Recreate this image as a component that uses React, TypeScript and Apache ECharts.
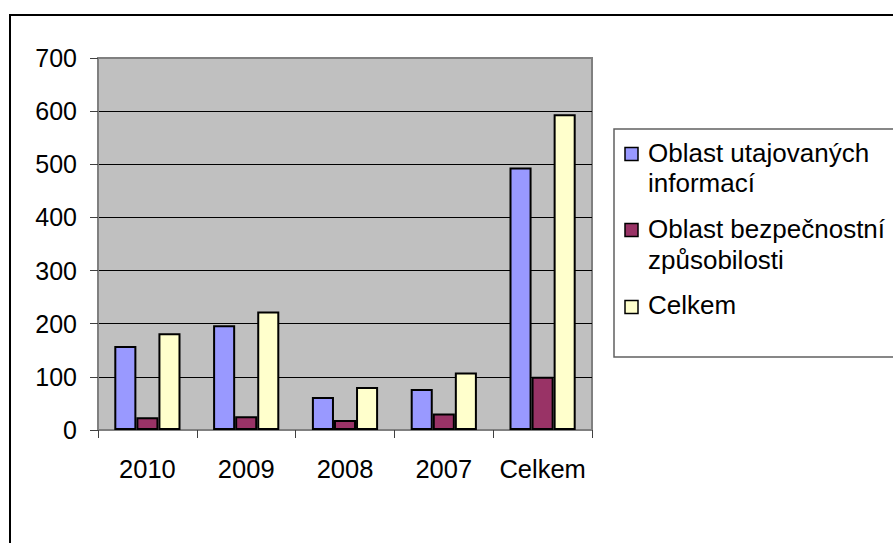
import React, { useEffect, useRef } from "react";
import * as echarts from "echarts";

const categories = ["2010", "2009", "2008", "2007", "Celkem"];
const seriesNames = ["Oblast utajovaných informací", "Oblast bezpečnostní způsobilosti", "Celkem"];
const legendLines = [["Oblast utajovaných", "informací"], ["Oblast bezpečnostní", "způsobilosti"], ["Celkem"]];
const utajovane = [158, 197, 62, 77, 494];
const bezpecnost = [24, 26, 19, 31, 100];
const celkem = [182, 223, 81, 108, 594];
const colors = ["#9999FF", "#993366", "#FFFFCC"];

const FONT = "'Liberation Sans', Arial, sans-serif";

export default function App() {
  const ref = useRef<HTMLDivElement>(null);
  useEffect(() => {
    document.body.style.margin = "0";
    const chart = echarts.init(ref.current!, null, { renderer: "svg" });
    const values = [utajovane, bezpecnost, celkem];

    const graphics: any[] = [
      {
        type: "rect",
        shape: { x: 10, y: 15, width: 900, height: 560 },
        style: { fill: "none", stroke: "#000", lineWidth: 2 },
        silent: true,
        z: -10,
      },
      {
        type: "rect",
        shape: { x: 614, y: 129, width: 300, height: 228 },
        style: { fill: "#fff", stroke: "#606060", lineWidth: 1.5 },
        silent: true,
      },
    ];
    const markerY = [147.5, 223.5, 300.5];
    const lineCenters = [[152.5, 183], [229, 259.5], [304.5]];
    legendLines.forEach((lines, i) => {
      graphics.push({
        type: "rect",
        shape: { x: 625, y: markerY[i], width: 13, height: 13 },
        style: { fill: colors[i], stroke: "#000", lineWidth: 1.5 },
        silent: true,
        z: 10,
      });
      lines.forEach((t, j) => {
        graphics.push({
          type: "text",
          x: 648,
          y: lineCenters[i][j],
          style: {
            text: t,
            fill: "#000",
            fontSize: 26,
            fontFamily: FONT,
            verticalAlign: "middle",
            align: "left",
          },
          silent: true,
          z: 10,
        });
      });
    });

    chart.setOption({
      animation: false,
      backgroundColor: "#fff",
      textStyle: { fontFamily: FONT },
      grid: {
        left: 98,
        top: 58,
        right: 301,
        bottom: 113,
        show: true,
        backgroundColor: "#C0C0C0",
        borderColor: "#808080",
        borderWidth: 2,
      },
      xAxis: {
        type: "category",
        data: categories,
        axisLine: { lineStyle: { color: "#808080", width: 2 } },
        axisTick: { show: true, length: 8, interval: 0, lineStyle: { color: "#404040", width: 1 } },
        axisLabel: { color: "#000", fontSize: 25.5, fontFamily: FONT, margin: 26, interval: 0 },
      },
      yAxis: {
        type: "value",
        min: 0,
        max: 700,
        interval: 100,
        axisLine: { show: true, lineStyle: { color: "#808080", width: 2 } },
        axisTick: { show: true, length: 8, lineStyle: { color: "#404040", width: 1 } },
        axisLabel: { color: "#000", fontSize: 25, fontFamily: FONT, margin: 21 },
        splitLine: {
          show: true,
          lineStyle: {
            color: ["#808080", "#000", "#000", "#000", "#000", "#000", "#000", "#808080"],
            width: 1,
          },
        },
      },
      series: seriesNames.map((name, i) => ({
        name,
        type: "bar",
        data: values[i],
        barGap: "0%",
        barCategoryGap: "33%",
        itemStyle: { color: colors[i], borderColor: "#000", borderWidth: 2 },
      })),
      graphic: graphics,
    });
    return () => chart.dispose();
  }, []);
  return <div ref={ref} style={{ width: 893, height: 543 }} />;
}
